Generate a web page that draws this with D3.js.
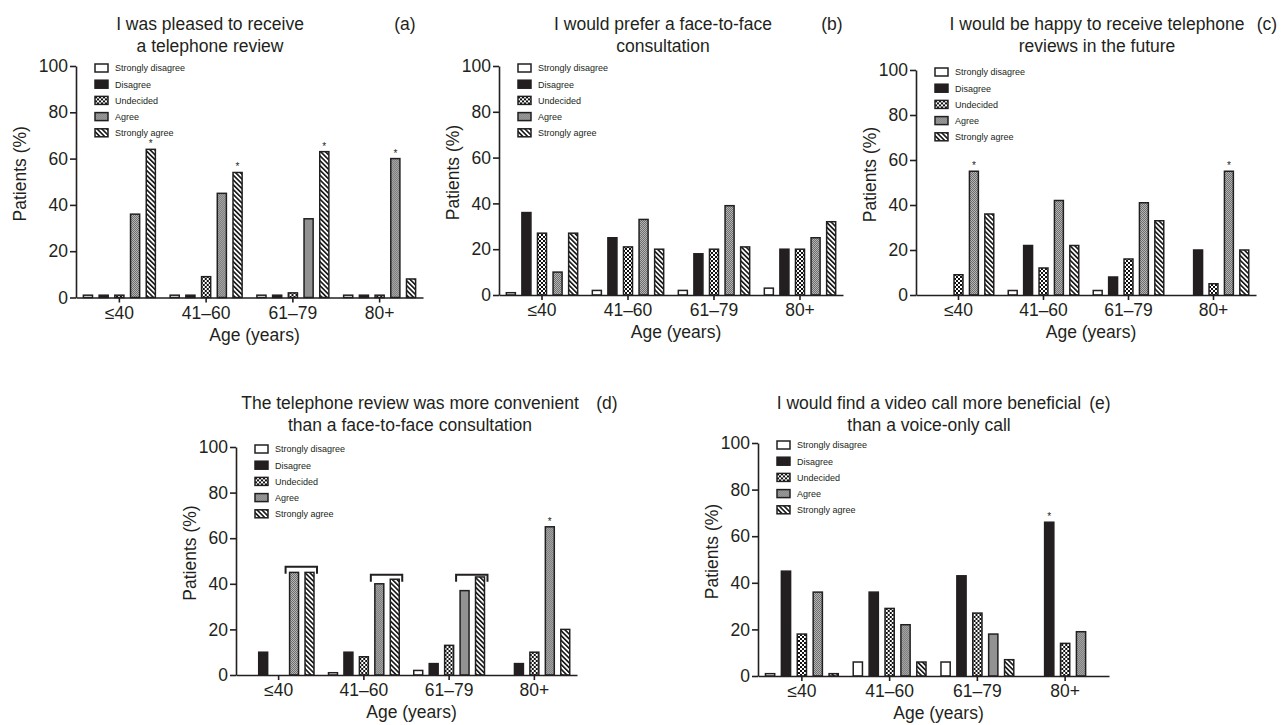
<!DOCTYPE html>
<html><head><meta charset="utf-8">
<script src="https://cdn.jsdelivr.net/npm/d3@7"></script>
<style>
body{margin:0;background:#fff}
svg text{font-family:"Liberation Sans",Arial,Helvetica,sans-serif;fill:#231f20}
</style>
</head><body>
<svg id="chart" width="1281" height="725"></svg>
<script>
// ---------- data ----------
const groups = ["≤40", "41–60", "61–79", "80+"];
const seriesNames = ["Strongly disagree", "Disagree", "Undecided", "Agree", "Strongly agree"];
const yTickValues = [0, 20, 40, 60, 80, 100];
const xAxisTitle = "Age (years)";
const yAxisTitle = "Patients (%)";

const titleA = ["I was pleased to receive", "a telephone review"];
const valuesA = [[1, 1, 1, 36, 64], [1, 1, 9, 45, 54], [1, 1, 2, 34, 63], [1, 1, 1, 60, 8]];
const starsA = [[0, 4], [1, 4], [2, 4], [3, 3]];

const titleB = ["I would prefer a face-to-face", "consultation"];
const valuesB = [[1, 36, 27, 10, 27], [2, 25, 21, 33, 20], [2, 18, 20, 39, 21], [3, 20, 20, 25, 32]];
const starsB = [];

const titleC = ["I would be happy to receive telephone", "reviews in the future"];
const valuesC = [[null, null, 9, 55, 36], [2, 22, 12, 42, 22], [2, 8, 16, 41, 33], [null, 20, 5, 55, 20]];
const starsC = [[0, 3], [3, 3]];

const titleD = ["The telephone review was more convenient", "than a face-to-face consultation"];
const valuesD = [[null, 10, null, 45, 45], [1, 10, 8, 40, 42], [2, 5, 13, 37, 43], [null, 5, 10, 65, 20]];
const starsD = [[3, 3]];
const bracketsD = [[0, 47.5], [1, 44], [2, 44]];

const titleE = ["I would find a video call more beneficial", "than a voice-only call"];
const valuesE = [[1, 45, 18, 36, 1], [6, 36, 29, 22, 6], [6, 43, 27, 18, 7], [null, 66, 14, 19, null]];
const starsE = [[3, 1]];

const panelLetters = ["(a)", "(b)", "(c)", "(d)", "(e)"];

// ---------- layout ----------
const panels = [
  {title: titleA, values: valuesA, stars: starsA, brackets: [], letter: panelLetters[0],
   left: 76, right: 423, top: 66, bottom: 297.5, titleX: 210, titleY: 30, letterX: 405, yLabelDx: -50},
  {title: titleB, values: valuesB, stars: starsB, brackets: [], letter: panelLetters[1],
   left: 499, right: 843, top: 66, bottom: 295, titleX: 663, titleY: 30, letterX: 832, yLabelDx: -40},
  {title: titleC, values: valuesC, stars: starsC, brackets: [], letter: panelLetters[2],
   left: 916, right: 1256, top: 70, bottom: 295, titleX: 1097, titleY: 30, letterX: 1267, yLabelDx: -40},
  {title: titleD, values: valuesD, stars: starsD, brackets: bracketsD, letter: panelLetters[3],
   left: 236, right: 577, top: 447, bottom: 675, titleX: 410, titleY: 409, letterX: 607, yLabelDx: -40},
  {title: titleE, values: valuesE, stars: starsE, brackets: [], letter: panelLetters[4],
   left: 758, right: 1109, top: 443, bottom: 676, titleX: 929, titleY: 409, letterX: 1100, yLabelDx: -40}
];

const svg = d3.select("#chart");
svg.append("rect").attr("width", 1281).attr("height", 725).attr("fill", "#fff");

// ---------- patterns ----------
const defs = svg.append("defs");
const pU = defs.append("pattern").attr("id", "pUnd").attr("patternUnits", "userSpaceOnUse")
  .attr("width", 4).attr("height", 4);
pU.append("rect").attr("width", 4).attr("height", 4).attr("fill", "#fff");
pU.append("rect").attr("width", 2).attr("height", 2).attr("fill", "#111");
pU.append("rect").attr("x", 2).attr("y", 2).attr("width", 2).attr("height", 2).attr("fill", "#111");

const pA = defs.append("pattern").attr("id", "pAgr").attr("patternUnits", "userSpaceOnUse")
  .attr("width", 2).attr("height", 2);
pA.append("rect").attr("width", 2).attr("height", 2).attr("fill", "#b5b5b5");
pA.append("rect").attr("width", 1).attr("height", 1).attr("fill", "#6e6e6e");
pA.append("rect").attr("x", 1).attr("y", 1).attr("width", 1).attr("height", 1).attr("fill", "#6e6e6e");

const pS = defs.append("pattern").attr("id", "pSA").attr("patternUnits", "userSpaceOnUse")
  .attr("width", 3.4).attr("height", 10).attr("patternTransform", "rotate(-45)");
pS.append("rect").attr("width", 3.4).attr("height", 10).attr("fill", "#fff");
pS.append("rect").attr("width", 1.6).attr("height", 10).attr("fill", "#111");

const fills = ["#fff", "#231f20", "url(#pUnd)", "url(#pAgr)", "url(#pSA)"];
const color = d3.scaleOrdinal().domain(seriesNames).range(fills);

// ---------- draw ----------
panels.forEach(p => {
  const g = svg.append("g");
  const x0 = d3.scaleBand().domain(groups).range([p.left, p.right]);
  const x1 = d3.scaleBand().domain(seriesNames).range([0, x0.bandwidth()])
    .paddingInner(0.42).paddingOuter(0.47);
  const y = d3.scaleLinear().domain([0, 100]).range([p.bottom, p.top]);

  // bars
  const gg = g.selectAll("g.grp").data(groups).join("g")
    .attr("transform", d => `translate(${x0(d)},0)`);
  gg.selectAll("rect").data((d, i) => p.values[i].map((v, j) => ({v, s: seriesNames[j]})).filter(o => o.v !== null))
    .join("rect")
    .attr("x", o => x1(o.s)).attr("width", x1.bandwidth())
    .attr("y", o => y(o.v)).attr("height", o => y(0) - y(o.v))
    .attr("fill", o => color(o.s)).attr("stroke", "#231f20").attr("stroke-width", 1.5);

  // significance stars
  g.selectAll("text.star").data(p.stars).join("text").attr("class", "star")
    .attr("x", d => x0(groups[d[0]]) + x1(seriesNames[d[1]]) + x1.bandwidth() / 2)
    .attr("y", d => y(p.values[d[0]][d[1]]) - 2)
    .attr("text-anchor", "middle").attr("font-size", 10).text("*");

  // brackets
  g.selectAll("path.br").data(p.brackets).join("path").attr("class", "br")
    .attr("d", d => {
      const gx = x0(groups[d[0]]);
      const xl = gx + x1("Agree") - 4, xr = gx + x1("Strongly agree") + x1.bandwidth() + 3;
      const yy = y(d[1]);
      return `M${xl},${yy + 7}V${yy}H${xr}V${yy + 7}`;
    })
    .attr("fill", "none").attr("stroke", "#231f20").attr("stroke-width", 2);

  // axes
  const xa = g.append("g").attr("transform", `translate(0,${p.bottom})`)
    .call(d3.axisBottom(x0).tickSize(5).tickPadding(4).tickSizeOuter(0));
  const ya = g.append("g").attr("transform", `translate(${p.left},0)`)
    .call(d3.axisLeft(y).tickValues(yTickValues).tickSize(6).tickPadding(2).tickSizeOuter(0));
  [xa, ya].forEach(a => {
    a.select(".domain").attr("stroke", "#231f20").attr("stroke-width", 1.6);
    a.selectAll(".tick line").attr("stroke", "#231f20").attr("stroke-width", 1.6);
    a.selectAll(".tick text").attr("font-size", 17.5).attr("fill", "#231f20")
      .style("font-family", '"Liberation Sans", Arial, sans-serif');
  });

  // axis titles
  g.append("text").attr("x", (p.left + p.right) / 2 + 5).attr("y", p.bottom + 43)
    .attr("text-anchor", "middle").attr("font-size", 17.5).text(xAxisTitle);
  const yc = (p.top + p.bottom) / 2 - 8;
  g.append("text").attr("transform", `translate(${p.left + p.yLabelDx},${yc}) rotate(-90)`)
    .attr("text-anchor", "middle").attr("font-size", 17.5).text(yAxisTitle);

  // title
  g.selectAll("text.ttl").data(p.title).join("text").attr("class", "ttl")
    .attr("x", p.titleX).attr("y", (d, i) => p.titleY + i * 22)
    .attr("text-anchor", "middle").attr("font-size", 17.5).text(d => d);
  g.append("text").attr("x", p.letterX).attr("y", p.titleY).attr("text-anchor", "middle")
    .attr("font-size", 17.5).text(p.letter);

  // legend
  const lg = g.append("g").attr("transform", `translate(${p.left + 19},${y(100) + 2})`);
  const items = lg.selectAll("g").data(seriesNames).join("g")
    .attr("transform", (d, i) => `translate(0,${i * 16.2})`);
  items.append("rect").attr("x", 0).attr("y", -4).attr("width", 13).attr("height", 8)
    .attr("fill", d => color(d)).attr("stroke", "#231f20").attr("stroke-width", 1.5);
  items.append("text").attr("x", 20).attr("y", 3.3).attr("font-size", 9).text(d => d);
});
</script>
</body></html>
